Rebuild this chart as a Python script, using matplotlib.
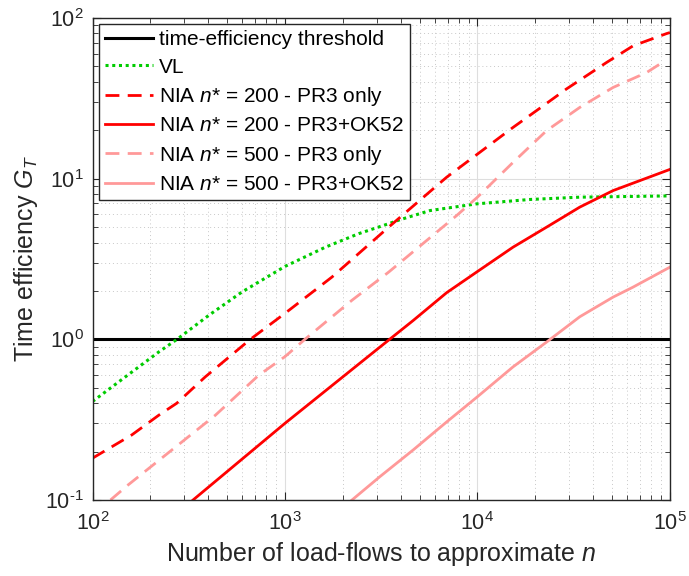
import numpy as np
import matplotlib
matplotlib.use("Agg")
import matplotlib.pyplot as plt
from matplotlib.ticker import FuncFormatter

plt.rcParams['font.family'] = ['Liberation Sans', 'DejaVu Sans']
plt.rcParams['mathtext.fontset'] = 'custom'
plt.rcParams['mathtext.rm'] = 'Liberation Sans'
plt.rcParams['mathtext.it'] = 'Liberation Sans:italic'
plt.rcParams['axes.unicode_minus'] = False

# values (n, G_T)
vl_n = [100, 148, 221, 275, 402, 598, 1000, 1620, 2415, 3460, 3950, 5660,
        9910, 18700, 34000, 100000]
vl_g = [0.41, 0.583, 0.834, 1.0, 1.41, 1.97, 2.84, 3.74, 4.54, 5.24, 5.54,
        6.32, 6.96, 7.41, 7.66, 7.8]

nia200_pr3_n = [100, 160, 221, 274, 385, 661, 1000, 1755, 3460, 6920, 10000,
                15300, 22000, 29000, 46900, 64400, 96000, 100000]
nia200_pr3_g = [0.182, 0.254, 0.337, 0.40, 0.583, 1.0, 1.45, 2.44, 4.99,
                10.2, 14.2, 20.8, 28.4, 36.1, 52.8, 67.0, 79.8, 81.0]

nia200_ok_n = [333, 1000, 3120, 4640, 6920, 10000, 15300, 22900, 34000,
               50700, 100000]
nia200_ok_g = [0.1, 0.30, 0.896, 1.31, 1.95, 2.64, 3.74, 4.99, 6.64, 8.42,
               11.4]

nia500_pr3_n = [124, 153, 435, 730, 1000, 1270, 2230, 3460, 7800, 10000,
                15300, 22900, 34000, 50700, 75700, 93000]
nia500_pr3_g = [0.1, 0.124, 0.337, 0.597, 0.78, 1.0, 1.75, 2.62, 5.89, 7.66,
                12.6, 19.9, 27.7, 36.9, 45.7, 53.5]

nia500_ok_n = [2230, 3120, 4640, 6920, 10000, 15300, 22900, 34000, 50700,
               64300, 100000]
nia500_ok_g = [0.1, 0.140, 0.205, 0.306, 0.439, 0.673, 0.962, 1.38, 1.83,
               2.11, 2.81]

red = '#FF0000'
pink = '#FF9999'
green = '#00CC00'


def pow10(v, pos):
    e = int(round(np.log10(v)))
    if e < 0:
        return r'$\mathdefault{10^{\text{-}%d}}$' % (-e)
    return r'$\mathdefault{10^{%d}}$' % e


fig = plt.figure(figsize=(6.89, 5.76), dpi=100)
ax = fig.add_axes([0.1343, 0.132, 0.838, 0.837])

ax.plot([1e2, 1e5], [1, 1], color='black', lw=2.2, label='time-efficiency threshold')
ax.plot(vl_n, vl_g, color=green, lw=2.2, ls=(0, (1, 1.2)), label='VL')
ax.plot(nia200_pr3_n, nia200_pr3_g, color=red, lw=2.0, ls=(0, (5, 3)),
        label=r'NIA $n$* = 200 - PR3 only')
ax.plot(nia200_ok_n, nia200_ok_g, color=red, lw=2.0,
        label=r'NIA $n$* = 200 - PR3+OK52')
ax.plot(nia500_pr3_n, nia500_pr3_g, color=pink, lw=2.0, ls=(0, (5, 3)),
        label=r'NIA $n$* = 500 - PR3 only')
ax.plot(nia500_ok_n, nia500_ok_g, color=pink, lw=2.0,
        label=r'NIA $n$* = 500 - PR3+OK52')

ax.set_xscale('log')
ax.set_yscale('log')
ax.set_xlim(1e2, 1e5)
ax.set_ylim(1e-1, 1e2)
ax.xaxis.set_major_formatter(FuncFormatter(pow10))
ax.yaxis.set_major_formatter(FuncFormatter(pow10))

ax.grid(True, which='major', color='#dedede', lw=0.8, ls='-')
ax.grid(True, which='minor', color='#c8c8c8', lw=0.7, ls=(0, (1, 3)))
ax.tick_params(which='both', direction='in', top=True, right=True, colors='#262626')
ax.tick_params(which='major', length=6, labelsize=15.5)
ax.tick_params(axis='x', which='major', pad=9)
ax.tick_params(axis='y', which='major', pad=6)
ax.tick_params(which='minor', length=3.5)
for s in ax.spines.values():
    s.set_color('#262626')
    s.set_linewidth(1.0)

ax.set_xlabel(r'Number of load-flows to approximate $n$', fontsize=18, color='#262626',
              labelpad=3)
ax.set_ylabel(r'Time efficiency $G_T$', fontsize=18, color='#262626')

leg = ax.legend(loc='upper left', fontsize=15, frameon=True, fancybox=False,
                edgecolor='#262626', framealpha=1, handlelength=2.3,
                handletextpad=0.3, labelspacing=0.40, borderpad=0.3,
                borderaxespad=0.3)
leg.get_frame().set_linewidth(1.0)

fig.savefig('out.png', dpi=100)
